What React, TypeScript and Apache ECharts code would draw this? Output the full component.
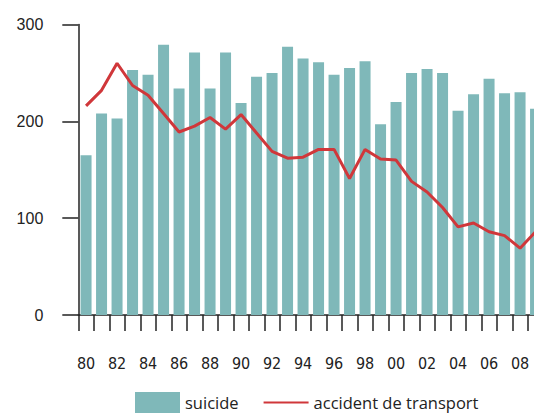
import React, { useEffect, useRef } from "react";
import * as echarts from "echarts";

const years = [
  "80", "81", "82", "83", "84", "85", "86", "87", "88", "89",
  "90", "91", "92", "93", "94", "95", "96", "97", "98", "99",
  "00", "01", "02", "03", "04", "05", "06", "07", "08", "09",
];

const suicide = [
  165, 208, 203, 253, 248, 279, 234, 271, 234, 271,
  219, 246, 250, 277, 265, 261, 248, 255, 262, 197,
  220, 250, 254, 250, 211, 228, 244, 229, 230, 213,
];

const transport = [
  216, 232, 260, 237, 227, 208, 189, 195, 204, 192,
  207, 188, 169, 162, 163, 171, 171, 141, 171, 161,
  160, 138, 127, 111, 91, 95, 86, 82, 69, 86,
];

const yTicks = { min: 0, max: 300, interval: 100 };

export default function App() {
  const ref = useRef<HTMLDivElement>(null);

  useEffect(() => {
    if (!ref.current) return;
    const chart = echarts.init(ref.current, undefined, { renderer: "svg" });
    const axisColor = "#222";
    chart.setOption({
      animation: false,
      grid: { left: 78.3, top: 24.5, width: 465, height: 290.5, containLabel: false },
      legend: {
        left: 135,
        top: 392,
        padding: 0,
        itemWidth: 45,
        itemHeight: 21,
        itemGap: 24,
        textStyle: { fontFamily: "'Open Sans', sans-serif", fontSize: 16.5, color: "#222" },
        data: [
          { name: "suicide", icon: "rect" },
          { name: "accident de transport", itemStyle: { opacity: 0 } },
        ],
      },
      xAxis: {
        type: "category",
        data: years,
        boundaryGap: true,
        axisLine: { lineStyle: { color: axisColor, width: 1.5 } },
        axisTick: { show: true, interval: 0, length: 16, lineStyle: { color: axisColor, width: 1.5 } },
        axisLabel: {
          interval: 1,
          margin: 40,
          fontFamily: "'Liberation Sans Narrow', 'DejaVu Sans Condensed', sans-serif",
          fontSize: 16,
          color: "#222",
        },
      },
      yAxis: {
        type: "value",
        min: yTicks.min,
        max: yTicks.max,
        interval: yTicks.interval,
        splitLine: { show: false },
        axisLine: { show: true, lineStyle: { color: axisColor, width: 1.5 } },
        axisTick: { show: true, length: 16, lineStyle: { color: axisColor, width: 1.5 } },
        axisLabel: {
          margin: 35,
          fontFamily: "'Liberation Sans', Arial, sans-serif",
          fontSize: 16,
          color: "#222",
        },
      },
      series: [
        {
          name: "suicide",
          type: "bar",
          data: suicide,
          barCategoryGap: "29%",
          itemStyle: { color: "#7fb8b9" },
        },
        {
          name: "accident de transport",
          type: "line",
          data: transport,
          symbol: "none",
          lineStyle: { color: "#d0373a", width: 3 },
          itemStyle: { color: "#d0373a" },
        },
      ],
    });
    return () => chart.dispose();
  }, []);

  return (
    <div style={{ position: "fixed", left: 0, top: 0, width: 534, height: 414, overflow: "hidden", background: "#fff" }}>
      <div ref={ref} style={{ width: 560, height: 430 }} />
    </div>
  );
}
